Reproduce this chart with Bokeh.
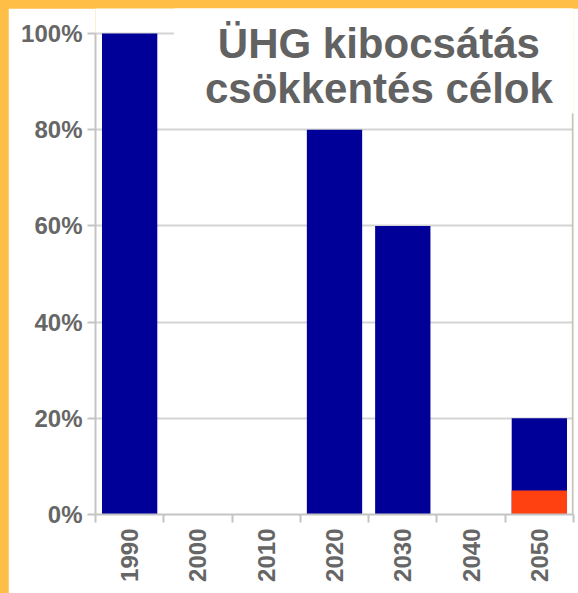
import numpy as np
from bokeh.plotting import figure
from bokeh.models import (ColumnDataSource, FixedTicker, NumeralTickFormatter,
                          Range1d, Label, BoxAnnotation)
from bokeh.embed import file_html
from bokeh.resources import INLINE

# ---- data ----
years = ["1990", "2000", "2010", "2020", "2030", "2040", "2050"]
total_pct = [100, 0, 0, 80, 60, 0, 20]        # remaining emissions (dark blue)
part_pct = [0, 0, 0, 0, 0, 0, 5]              # lower segment (orange-red)
y_ticks = [0, 20, 40, 60, 80, 100]
title_lines = ["ÜHG kibocsátás", "csökkentés célok"]

BLUE = "#000099"
ORANGE = "#FF4010"
GRAY_TXT = "#666666"
GRID = "#d4d4d4"
AXIS = "#c4c4c4"
FONT = "Liberation Sans"

n = len(years)
xs = [i + 0.5 for i in range(n)]
src = ColumnDataSource(dict(
    x=xs,
    total=[v / 100 for v in total_pct],
    part=[v / 100 for v in part_pct],
))

p = figure(width=570, height=585, output_backend="svg", toolbar_location=None,
           x_range=Range1d(0, n), y_range=Range1d(0, 1.052),
           min_border_left=87, min_border_right=5, min_border_top=0,
           min_border_bottom=79)
p.outline_line_color = None
p.background_fill_color = "white"
p.border_fill_color = "white"

p.vbar(x="x", top="total", bottom=0, width=0.81, source=src,
       fill_color=BLUE, line_color=None)
p.vbar(x="x", top="part", bottom=0, width=0.81, source=src,
       fill_color=ORANGE, line_color=None)

# grid
p.xgrid.visible = False
p.ygrid.grid_line_color = GRID
p.ygrid.grid_line_width = 2
p.ygrid.ticker = FixedTicker(ticks=[v / 100 for v in y_ticks])

# y axis
p.yaxis.ticker = FixedTicker(ticks=[v / 100 for v in y_ticks])
p.yaxis.bounds = (0, 1)
p.yaxis.formatter = NumeralTickFormatter(format="0%")
p.yaxis.axis_line_color = AXIS
p.yaxis.axis_line_width = 2
p.yaxis.major_tick_line_color = AXIS
p.yaxis.major_tick_line_width = 2
p.yaxis.major_tick_in = 0
p.yaxis.major_tick_out = 8
p.yaxis.minor_tick_line_color = None
p.yaxis.major_label_standoff = 5
p.yaxis.major_label_text_font = FONT
p.yaxis.major_label_text_font_style = "bold"
p.yaxis.major_label_text_font_size = "24px"
p.yaxis.major_label_text_color = GRAY_TXT

# x axis: labels at centers, tick marks at category boundaries (minor ticks)
p.xaxis.ticker = FixedTicker(ticks=xs, minor_ticks=list(range(n + 1)))
p.xaxis.major_label_overrides = {x: y for x, y in zip(xs, years)}
p.xaxis.axis_line_color = AXIS
p.xaxis.axis_line_width = 2
p.xaxis.major_tick_line_color = None
p.xaxis.major_tick_in = 0
p.xaxis.major_tick_out = 8
p.xaxis.minor_tick_line_color = AXIS
p.xaxis.minor_tick_line_width = 2
p.xaxis.minor_tick_in = 0
p.xaxis.minor_tick_out = 8
p.xaxis.major_label_orientation = np.pi / 2
p.xaxis.major_label_standoff = 6
p.xaxis.major_label_text_font = FONT
p.xaxis.major_label_text_font_style = "bold"
p.xaxis.major_label_text_font_size = "24px"
p.xaxis.major_label_text_color = GRAY_TXT

# right border line (below the title box)
p.segment(x0=[n - 0.01], y0=[0], x1=[n - 0.01], y1=[0.834],
          line_color=AXIS, line_width=2)

# white title box (covers grid behind the title)
p.add_layout(BoxAnnotation(left=1.15, right=n + 0.3, bottom=0.834, top=1.3,
                           fill_color="white", fill_alpha=1.0, line_color=None,
                           level="annotation"))

for txt, yy in zip(title_lines, [0.979, 0.886]):
    p.add_layout(Label(x=4.15, y=yy, text=txt, text_align="center",
                       text_baseline="alphabetic", text_font=FONT,
                       text_font_style="bold", text_font_size="42px",
                       text_color="#626262", level="overlay"))

html = file_html(p, INLINE)
i = html.rfind("<body")
j = html.find(">", i)
html = html[:j] + (' style="background:#FFBE46; margin:0; padding:8px 0 0 8px;'
                   ' box-sizing:border-box; overflow:hidden;"') + html[j:]
open("out.html", "w").write(html)
